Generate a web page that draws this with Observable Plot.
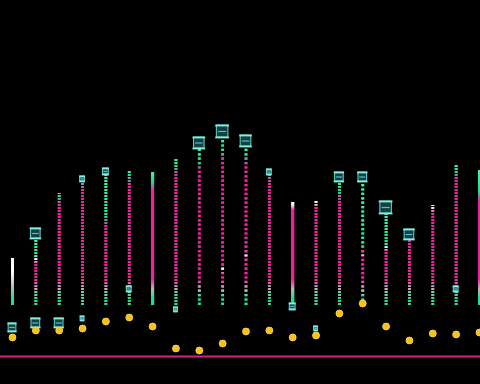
<!DOCTYPE html>
<html>
<head>
<meta charset="utf-8">
<script src="https://cdn.jsdelivr.net/npm/d3@7"></script>
<script src="https://cdn.jsdelivr.net/npm/@observablehq/plot@0.6"></script>
<style>
  html, body { margin: 0; padding: 0; background: #000; }
  #chart { width: 480px; height: 384px; overflow: hidden; }
</style>
</head>
<body>
<div id="chart"></div>
<script>
// ---- data ----
const columns   = [0,1,2,3,4,5,6,7,8,9,10,11,12,13,14,15,16,17,18,19,20];
const tops      = [47,65,112,127,133,135,133,147,160,173,163,133,103,105,128,128,95,73,100,141,135];
const greenFrom = [null,46,105,120,85,125,120,135,140,150,145,128,null,98,110,55,60,null,null,130,110];
const glowAt    = [null,46,null,null,null,null,null,null,null,36,50,null,null,null,null,50,57,null,null,null,null];
const topWhite  = [true,false,false,false,false,false,false,false,false,false,false,false,true,true,false,false,false,true,true,false,false];
const lineStyle = ["solid","dot","dot","dot","dot","dot","solid","dot","sparse","sparse","sparse","dot","solid","dot","dot","sparse","dot","dot","dot","dot","solid"];
const dots      = [-32,-25,-25,-23,-16,-12,-21,-43,-45,-38,-26,-25,-32,-30,-8,2,-21,-35,-28,-29,-27];
const capCols   = [1,3,4,8,9,10,11,14,15,16,17, 0,1,2,3,5,7,12,13,19];
const capHi     = [77,129,137,168,180,170,136,133,133,104,76, -18,-13,-13,-11,19,-2,2,-21,19];
const capLo     = [67,124,131,157,168,159,131,124,124,92,66, -26,-22,-22,-15,14,-6,-4,-25,14];
const baseline  = [-51];

// ---- tables ----
const lines = columns.map((c, k) => ({i: c, top: tops[k], green: greenFrom[k], glow: glowAt[k], white: topWhite[k], style: lineStyle[k]}));
const caps = capCols.map((c, k) => ({i: c, hi: capHi[k], lo: capLo[k]}));
const pts = columns.map((c, k) => ({i: c, v: dots[k]}));

const step = (479 - 12) / 20;
const hw = d => ((d.hi - d.lo) * 0.48) / step;

const GREEN = "#1fe394", MAG = "#f0209e", GRAY = "#b8b8b8", WHITE = "#ffffff";
const strokeOf = d => `url(#lg${d.i})`;

const chart = Plot.plot({
  width: 480,
  height: 384,
  margin: 0,
  style: {background: "#000"},
  x: {domain: [0, 20], range: [12, 479], axis: null},
  y: {domain: [0, 200], range: [305, 105], axis: null},
  marks: [
    Plot.ruleY(baseline, {stroke: "#d8247f", strokeWidth: 2}),
    Plot.ruleX(lines.filter(d => d.style === "solid"), {x: "i", y1: 0, y2: "top", stroke: strokeOf, strokeWidth: 3}),
    Plot.ruleX(lines.filter(d => d.style === "dot"), {x: "i", y1: 0, y2: "top", stroke: strokeOf, strokeWidth: 2.8, strokeDasharray: "2,1"}),
    Plot.ruleX(lines.filter(d => d.style === "sparse"), {x: "i", y1: 0, y2: "top", stroke: strokeOf, strokeWidth: 2.8, strokeDasharray: "2.2,2.2"}),
    Plot.rect(caps, {x1: d => d.i - hw(d), x2: d => d.i + hw(d), y1: "lo", y2: "hi", fill: "#134040", stroke: "#5cc9bc", strokeWidth: 1.1}),
    Plot.ruleY(caps, {x1: d => d.i - hw(d) * 1.2, x2: d => d.i + hw(d) * 1.2, y: "hi", stroke: "#86eedc", strokeWidth: 1.8}),
    Plot.ruleY(caps, {x1: d => d.i - hw(d) * 1.2, x2: d => d.i + hw(d) * 1.2, y: "lo", stroke: "#86eedc", strokeWidth: 1.8}),
    Plot.ruleY(caps, {x1: d => d.i - hw(d) * 0.7, x2: d => d.i + hw(d) * 0.7, y: d => (d.hi + d.lo) / 2, stroke: "#5ab8e0", strokeWidth: 1.2}),
    Plot.dot(pts, {x: "i", y: "v", r: 3.4, fill: "#f4c21a", stroke: "#ffd84a", strokeWidth: 0.5})
  ]
});

// gradients (user space, positioned through the y scale)
const ys = chart.scale("y");
const svgNS = "http://www.w3.org/2000/svg";
const defs = document.createElementNS(svgNS, "defs");
const glowF = document.createElementNS(svgNS, "filter");
glowF.setAttribute("id", "glow");
glowF.setAttribute("filterUnits", "userSpaceOnUse");
glowF.setAttribute("x", 0); glowF.setAttribute("y", 0);
glowF.setAttribute("width", 480); glowF.setAttribute("height", 384);
glowF.innerHTML = '<feGaussianBlur stdDeviation="0.7" result="b"/><feMerge><feMergeNode in="b"/><feMergeNode in="SourceGraphic"/></feMerge>';
defs.appendChild(glowF);
lines.forEach(d => {
  const g = document.createElementNS(svgNS, "linearGradient");
  g.setAttribute("id", `lg${d.i}`);
  g.setAttribute("gradientUnits", "userSpaceOnUse");
  g.setAttribute("x1", 0); g.setAttribute("x2", 0);
  g.setAttribute("y1", ys.apply(0)); g.setAttribute("y2", ys.apply(d.top));
  const off = v => Math.max(0, Math.min(1, v / d.top));
  let stops = [];
  stops.push([0, GREEN]);
  stops.push([off(7), GREEN]);
  if (d.i === 0) {
    stops.push([off(18), GRAY]);
    stops.push([off(33), WHITE]);
    stops.push([1, WHITE]);
  } else {
    stops.push([off(16), GRAY]);
    stops.push([off(26), MAG]);
    if (d.glow != null) {
      stops.push([off(d.glow - 5), MAG]);
      stops.push([off(d.glow), WHITE]);
      stops.push([off(d.glow + 4), d.green != null && d.green <= d.glow + 4 ? GREEN : MAG]);
    }
    if (d.white) {
      stops.push([off(d.top - 8), MAG]);
      stops.push([off(d.top - 3), "#f0e8f0"]);
      stops.push([1, WHITE]);
    } else if (d.green != null) {
      stops.push([off(d.green - 6), MAG]);
      stops.push([off(d.green + 4), GREEN]);
      stops.push([1, "#3df5a8"]);
    } else {
      stops.push([1, MAG]);
    }
  }
  stops.sort((a, b) => a[0] - b[0]);
  stops.forEach(([o, c]) => {
    const s = document.createElementNS(svgNS, "stop");
    s.setAttribute("offset", o);
    s.setAttribute("stop-color", c);
    g.appendChild(s);
  });
  defs.appendChild(g);
});
chart.insertBefore(defs, chart.firstChild);
chart.querySelectorAll("line").forEach(l => {
  const s = l.getAttribute("stroke") || (l.parentNode && l.parentNode.getAttribute("stroke"));
  if (s && s.startsWith("url(")) l.setAttribute("filter", "url(#glow)");
});
chart.querySelectorAll("circle").forEach(c => c.setAttribute("filter", "url(#glow)"));
document.getElementById("chart").appendChild(chart);
</script>
</body>
</html>
